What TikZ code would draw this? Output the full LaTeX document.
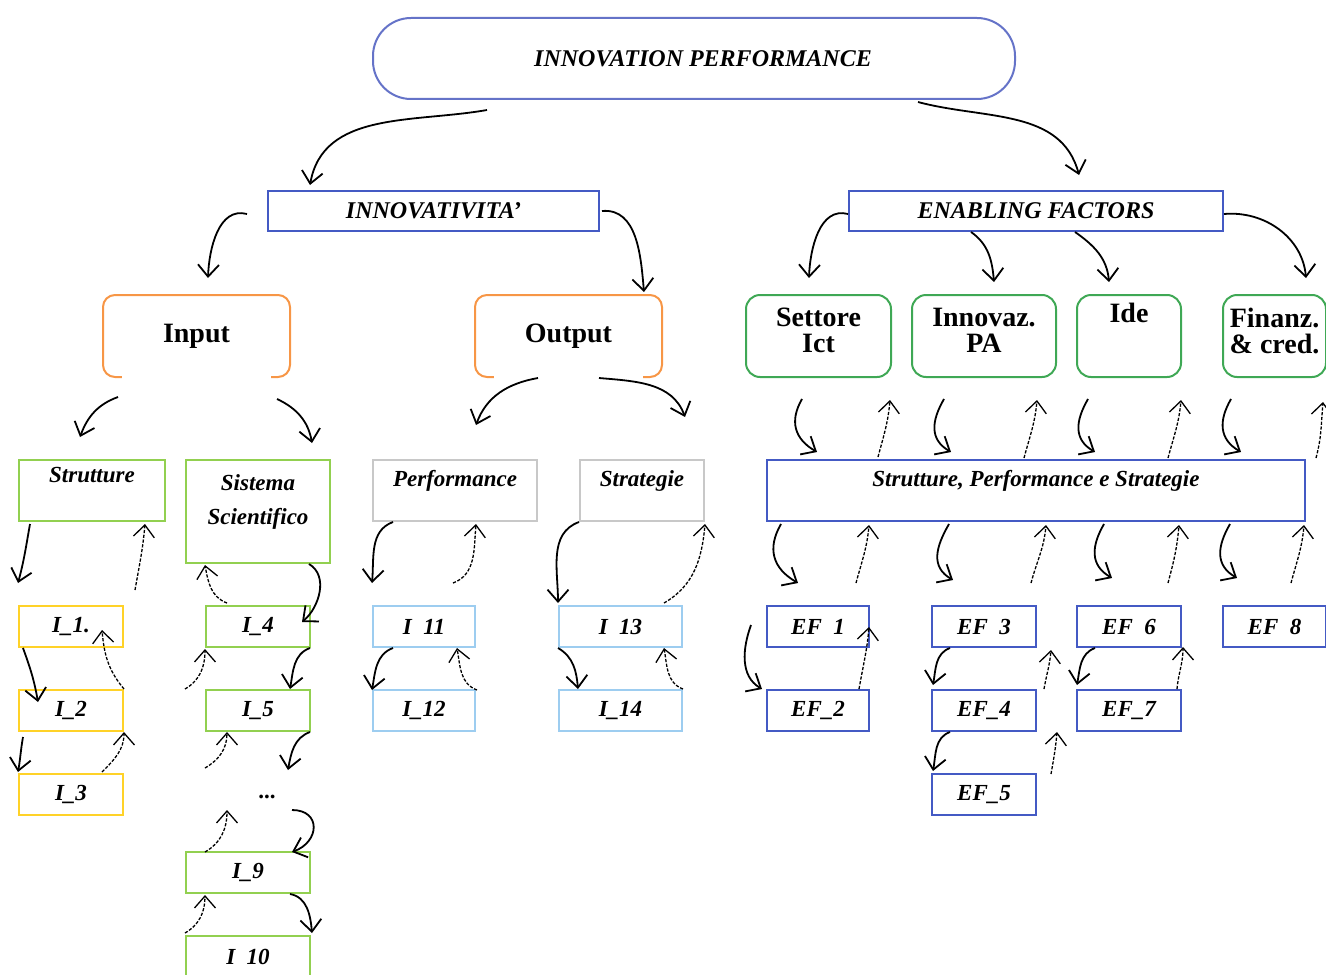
\documentclass[tikz,border=0pt]{standalone}
\usepackage{fontspec}
\setmainfont{Liberation Serif}
\usepackage{xcolor}
\definecolor{ipBlue}{RGB}{101,115,200}
\definecolor{ipNavy}{RGB}{68,90,196}
\definecolor{ipOrange}{RGB}{247,150,70}
\definecolor{ipGreen}{RGB}{63,168,85}
\definecolor{ipLime}{RGB}{146,208,80}
\definecolor{ipYellow}{RGB}{255,210,40}
\definecolor{ipSky}{RGB}{157,205,240}
\definecolor{ipGrey}{RGB}{200,200,200}
\usetikzlibrary{positioning,arrows.meta,calc}
\newcommand{\ulgap}{\hspace{0.5em}}

\begin{document}
\begin{tikzpicture}[x=0.5pt,y=0.5pt,node distance=20.5pt,
  cell/.style={draw,line width=1pt,inner sep=0pt,minimum height=20.5pt,anchor=north west,font=\fontsize{11.5}{13}\selectfont\bfseries\itshape},
  topbox/.style={cell,draw=ipBlue,rounded corners=19pt,minimum width=321pt,minimum height=40.5pt,font=\fontsize{12}{14}\selectfont\bfseries\itshape},
  hdbox/.style={cell,draw=ipNavy,minimum height=20pt,font=\fontsize{12}{14}\selectfont\bfseries\itshape},
  obox/.style={cell,draw=ipOrange,rounded corners=6pt,minimum width=93.5pt,minimum height=41pt,font=\fontsize{14}{16}\selectfont\bfseries},
  gbox/.style={cell,draw=ipGreen,rounded corners=7pt,minimum height=41pt},
  lbl/.style={anchor=north,inner sep=0pt,align=center,font=\fontsize{11.5}{13}\selectfont\bfseries\itshape},
  glbl/.style={lbl,yshift=-7pt,font=\fontsize{14}{13}\selectfont\bfseries},
  fw/.style={-{Straight Barb[length=6pt,width=10.5pt]},line width=0.9pt},
  bk/.style={fw,line width=0.65pt,dash pattern=on 1.6pt off 0.8pt}]
  \useasboundingbox (0,0) rectangle (1326,-974);
  \node[topbox] (top) at (372,-17) {\hspace{9pt}INNOVATION PERFORMANCE};
  \node[hdbox,minimum width=165.5pt] (innov) at (267,-190) {INNOVATIVITA'};
  \node[hdbox,minimum width=187pt] (enab) at (848,-190) {ENABLING FACTORS};
  \node[obox] (inp) at (102,-294) {Input};
  \node[obox] (outp) at (474,-294) {Output};
  \draw[white,line width=3pt] ($(inp.south west)+(20,0)$) -- ($(inp.south east)+(-20,0)$);
  \draw[white,line width=3pt] ($(outp.south west)+(20,0)$) -- ($(outp.south east)+(-20,0)$);
  \node[gbox,minimum width=72.5pt,label={[glbl]north:Settore\\Ict}] (sett) at (745,-294) {};
  \node[gbox,minimum width=72pt,label={[glbl]north:Innovaz.\\PA}] (inpa) at (911,-294) {};
  \node[gbox,minimum width=52pt,label={[glbl,yshift=2.5pt]north:Ide}] (ide) at (1076,-294) {};
  \node[gbox,minimum width=51.5pt,label={[glbl]north:Finanz.\\\& cred.}] (fin) at (1222,-294) {};
  \node[cell,draw=ipLime,minimum width=73pt,minimum height=30.5pt,label={[lbl,yshift=-4pt]north:Strutture}] (strut) at (18,-459) {};
  \node[cell,draw=ipLime,minimum width=72pt,minimum height=51.5pt,label={[lbl,yshift=-7.5pt,font=\fontsize{11.5}{17}\selectfont\bfseries\itshape]north:Sistema\\Scientifico}] (sist) at (185,-459) {};
  \node[cell,draw=ipGrey,minimum width=82pt,minimum height=30.5pt,label={[lbl,yshift=-5.5pt]north:Performance}] (perf) at (372,-459) {};
  \node[cell,draw=ipGrey,minimum width=62pt,minimum height=30.5pt,label={[lbl,yshift=-5.5pt]north:Strategie}] (strat) at (579,-459) {};
  \node[cell,draw=ipNavy,minimum width=269pt,minimum height=30.5pt,label={[lbl,yshift=-5.5pt]north:{Strutture, Performance e Strategie}}] (sps) at (766,-459) {};
  \node[cell,draw=ipYellow,minimum width=52pt] (i1) at (18,-605) {I\_1.};
  \node[cell,draw=ipYellow,minimum width=52pt,below=of i1] (i2) {I\_2};
  \node[cell,draw=ipYellow,minimum width=52pt,below=of i2] (i3) {I\_3};
  \node[cell,draw=ipLime,minimum width=52pt] (i4) at (205,-605) {I\_4};
  \node[cell,draw=ipLime,minimum width=52pt,below=of i4] (i5) {I\_5};
  \node[font=\fontsize{11.5}{13}\selectfont\bfseries] (dots) at (267,-797) {...};
  \node[cell,draw=ipLime,minimum width=62pt] (i9) at (185,-851) {I\_9};
  \node[cell,draw=ipLime,minimum width=62pt,below=of i9] (i10) {I\ulgap10};
  \node[cell,draw=ipSky,minimum width=51pt] (i11) at (372,-605) {I\ulgap11};
  \node[cell,draw=ipSky,minimum width=51pt,below=of i11] (i12) {I\_12};
  \node[cell,draw=ipSky,minimum width=61.5pt] (i13) at (558,-605) {I\ulgap13};
  \node[cell,draw=ipSky,minimum width=61.5pt,below=of i13] (i14) {I\_14};
  \node[cell,draw=ipNavy,minimum width=51pt] (ef1) at (766,-605) {EF\ulgap1};
  \node[cell,draw=ipNavy,minimum width=51pt,below=of ef1] (ef2) {EF\_2};
  \node[cell,draw=ipNavy,minimum width=52pt] (ef3) at (931,-605) {EF\ulgap3};
  \node[cell,draw=ipNavy,minimum width=52pt,below=of ef3] (ef4) {EF\_4};
  \node[cell,draw=ipNavy,minimum width=52pt,below=of ef4] (ef5) {EF\_5};
  \node[cell,draw=ipNavy,minimum width=52pt] (ef6) at (1076,-605) {EF\ulgap6};
  \node[cell,draw=ipNavy,minimum width=52pt,below=of ef6] (ef7) {EF\_7};
  \node[cell,draw=ipNavy,minimum width=51.5pt] (ef8) at (1222,-605) {EF\ulgap8};
  \draw[fw] ($(top.south)+(-207,-10)$) to[out=190,in=80] ($(innov.north west)+(43,5)$);
  \draw[fw] ($(top.south)+(224,-2)$) to[out=-15,in=105] ($(enab.north east)+(-145,15)$);
  \draw[fw] ($(innov.west)+(-20,-3)$) to[out=165,in=88] ($(inp.north)+(11.5,16)$);
  \draw[fw] ($(innov.east)+(2,0)$) to[out=5,in=95] ($(outp.north east)+(-19,2)$);
  \draw[fw] ($(enab.west)+(0,-3)$) to[out=165,in=88] ($(sett.north)+(-9.5,16)$);
  \draw[fw] ($(enab.south west)+(123,0)$) to[out=-35,in=95] ($(inpa.north)+(10,12)$);
  \draw[fw] ($(enab.south west)+(227,0)$) to[out=-35,in=95] ($(ide.north)+(-20,12)$);
  \draw[fw] ($(enab.east)+(0,-3)$) to[out=5,in=95] ($(fin.north)+(31.5,16)$);
  \draw[fw] ($(inp.south west)+(16,-19)$) to[out=200,in=70] ($(strut.north west)+(62,22)$);
  \draw[fw] ($(inp.south east)+(-14,-21)$) to[out=-25,in=100] ($(sist.north east)+(-19,16)$);
  \draw[fw] ($(outp.south)+(-30.5,0)$) to[out=190,in=70] ($(perf.north)+(21,34)$);
  \draw[fw] ($(outp.south)+(30.5,0)$) to[out=-5,in=110] ($(strat.north east)+(-20,42)$);
  \draw[fw] ($(strut.south west)+(12,-2)$) to[out=-100,in=75] ($(i1.north west)+(0,22)$);
  \draw[bk] ($(i1.north west)+(117,15)$) to[out=80,in=-95] ($(strut.south east)+(-21,-2)$);
  \draw[fw] ($(i1.south west)+(5,0)$) to[out=-70,in=100] ($(i2.north west)+(20,-13)$);
  \draw[bk] (i2.north east) to[out=130,in=-85] ($(i1.north east)+(-22,-25)$);
  \draw[fw] ($(i2.south west)+(5,-5)$) to[out=-100,in=80] ($(i3.north west)+(0,1)$);
  \draw[bk] ($(i3.north west)+(84,1)$) to[out=45,in=-90] (i2.south east);
  \draw[bk] ($(i4.north west)+(22,2)$) to[out=160,in=-80] ($(sist.south west)+(20,-1)$);
  \draw[fw] ($(sist.south east)+(-22,0)$) to[out=-30,in=40] ($(i4.north east)+(-9,-17)$);
  \draw[fw] ($(i4.south east)+(-1,0)$) to[out=200,in=80] ($(i5.north east)+(-21,0)$);
  \draw[bk] ($(i5.north west)+(-20,0)$) to[out=30,in=-90] ($(i4.south west)+(0,-1)$);
  \draw[fw] ($(i5.south east)+(-1,0)$) to[out=200,in=80] ($(dots)+(21,27)$);
  \draw[bk] ($(dots)+(-62,29)$) to[out=30,in=-90] ($(i5.south west)+(22,0)$);
  \draw[fw] ($(dots)+(25,-13)$) to[out=0,in=20,looseness=1.8] ($(i9.north east)+(-19,-1)$);
  \draw[bk] ($(i9.north west)+(20,-1)$) to[out=30,in=-90] ($(dots)+(-40,-13)$);
  \draw[fw] ($(i9.south east)+(-21,0)$) to[out=-10,in=95] ($(i10.north east)+(1,2)$);
  \draw[bk] ($(i10.north west)+(0,2)$) to[out=30,in=-90] ($(i9.south west)+(20,-1)$);
  \draw[fw] ($(perf.south west)+(21,0)$) to[out=200,in=85] ($(i11.north west)+(0,22)$);
  \draw[bk] ($(i11.north west)+(81,22)$) to[out=20,in=-95] ($(perf.south)+(21,-2)$);
  \draw[fw] ($(i11.south west)+(21,0)$) to[out=200,in=80] ($(i12.north west)+(0,-1)$);
  \draw[bk] ($(i12.north east)+(1,-1)$) to[out=160,in=-80] ($(i11.south east)+(-19,0)$);
  \draw[fw] (strat.south west) to[out=200,in=90] ($(i13.north west)+(0,2)$);
  \draw[bk] ($(i13.north east)+(-19,2)$) to[out=30,in=-95] ($(strat.south east)+(0,-2)$);
  \draw[fw] (i13.south west) to[out=-30,in=95] ($(i14.north west)+(20,0)$);
  \draw[bk] (i14.north east) to[out=160,in=-80] ($(i13.south east)+(-19,0)$);
  \draw[fw] ($(sett.south west)+(57,-21)$) to[out=240,in=150,looseness=1.2] ($(sps.north west)+(51,7)$);
  \draw[bk] ($(sps.north west)+(112,2)$) to[out=75,in=-95] ($(sett.south east)+(-2,-22)$);
  \draw[fw] ($(inpa.south west)+(33,-21)$) to[out=240,in=150,looseness=1.2] ($(sps.north west)+(185,7)$);
  \draw[bk] ($(sps.north west)+(258,1)$) to[out=75,in=-95] ($(inpa.south east)+(-20,-22)$);
  \draw[fw] ($(ide.south west)+(12,-21)$) to[out=240,in=150,looseness=1.2] ($(sps.north west)+(329,7)$);
  \draw[bk] ($(sps.north west)+(402,1)$) to[out=75,in=-95] ($(ide.south east)+(-1,-22)$);
  \draw[fw] ($(fin.south west)+(9,-21)$) to[out=240,in=150,looseness=1.2] ($(sps.north west)+(475,7)$);
  \draw[bk] ($(sps.north east)+(10,1)$) to[out=75,in=-95] ($(fin.south east)+(-4,-24)$);
  \draw[fw] ($(sps.south west)+(15,-2)$) to[out=240,in=150,looseness=1.2] ($(ef1.north west)+(32,22)$);
  \draw[bk] ($(ef1.north west)+(90,22)$) to[out=75,in=-95] ($(sps.south west)+(103,-3)$);
  \draw[fw] ($(sps.south west)+(183,-2)$) to[out=240,in=150,looseness=1.2] ($(ef3.north west)+(22,25)$);
  \draw[bk] ($(ef3.north west)+(100,22)$) to[out=75,in=-95] ($(sps.south west)+(280,-3)$);
  \draw[fw] ($(sps.south west)+(338,-2)$) to[out=240,in=150,looseness=1.2] ($(ef6.north west)+(36,27)$);
  \draw[bk] ($(ef6.north west)+(92,22)$) to[out=75,in=-95] ($(sps.south west)+(413,-3)$);
  \draw[fw] ($(sps.south west)+(464,-2)$) to[out=240,in=150,looseness=1.2] ($(ef8.north west)+(15,27)$);
  \draw[bk] ($(ef8.north west)+(69,22)$) to[out=75,in=-95] ($(sps.south east)+(-2,-3)$);
  \draw[fw] ($(ef1.south west)+(-15,23)$) to[out=250,in=150] ($(ef2.north west)+(-4,0)$);
  \draw[bk] ($(ef2.north east)+(-11,0)$) to[out=80,in=-95] ($(ef1.north east)+(-1,-22)$);
  \draw[fw] ($(ef3.south west)+(19,0)$) to[out=200,in=80] ($(ef4.north west)+(2,4)$);
  \draw[bk] ($(ef4.north east)+(7,0)$) to[out=80,in=-95] ($(ef3.south east)+(14,-2)$);
  \draw[fw] ($(ef4.south west)+(19,0)$) to[out=200,in=80] ($(ef5.north west)+(2,2)$);
  \draw[bk] ($(ef5.north east)+(14,-1)$) to[out=80,in=-95] ($(ef4.south east)+(20,0)$);
  \draw[fw] ($(ef6.south west)+(19,0)$) to[out=200,in=80] ($(ef7.north west)+(1,4)$);
  \draw[bk] ($(ef7.north east)+(-5,0)$) to[out=85,in=-90] ($(ef6.south east)+(1,1)$);
\end{tikzpicture}
\end{document}
